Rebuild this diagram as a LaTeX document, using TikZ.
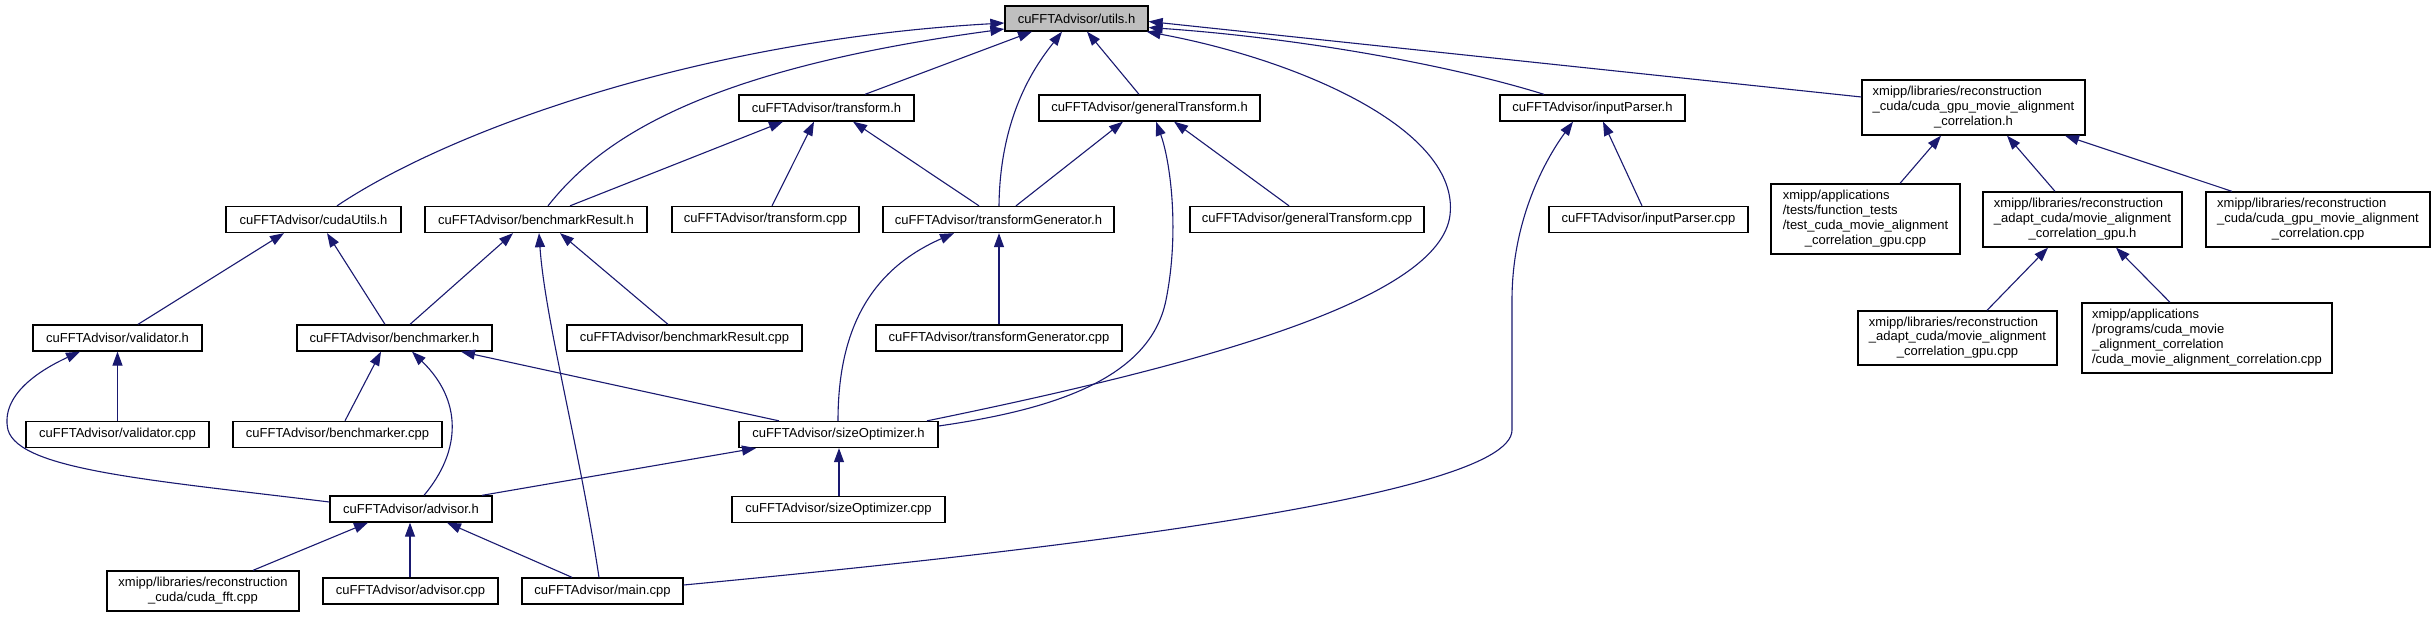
\documentclass[tikz,border=0pt]{standalone}
\usepackage{fontspec}
\setmainfont{Liberation Sans}
\usetikzlibrary{arrows.meta}
\definecolor{navyc}{RGB}{25,25,112}
\definecolor{graybox}{RGB}{191,191,191}
\newcommand{\dfont}{\fontsize{13}{14.9}\selectfont}
\newcommand{\mlab}[2]{\begin{tabular}{@{}l@{}}#1\\\multicolumn{1}{@{}c@{}}{#2}\end{tabular}}
\begin{document}
\begin{tikzpicture}[x=1pt,y=-1pt,
  box/.style={draw=black, line width=1.3pt, fill=white, rectangle, inner sep=0pt, font=\dfont, align=center, minimum height=26pt},
  edge/.style={draw=navyc, line width=1.1pt, -{Triangle[length=14pt,width=10pt]}}]
\useasboundingbox (0,0) rectangle (2434,617);
\fill[white] (0,0) rectangle (2434,617);
% row 0
\node[box, fill=graybox, minimum width=143pt, minimum height=25pt] (utils) at (1076.5,18.5) {cuFFTAdvisor/utils.h};
% row 1
\node[box, minimum width=175pt] (transformh) at (826.5,108) {cuFFTAdvisor/transform.h};
\node[box, minimum width=221pt] (genTh) at (1149.5,108) {cuFFTAdvisor/generalTransform.h};
\node[box, minimum width=185pt] (inputParserh) at (1592.5,108) {cuFFTAdvisor/inputParser.h};
\node[box, minimum width=223pt, minimum height=55pt] (cudaGpuH) at (1973.5,107.5) {\mlab{xmipp/libraries/reconstruction\\\_cuda/cuda\_gpu\_movie\_alignment}{\_correlation.h}};
% row 2
\node[box, minimum width=175pt] (cudaUtils) at (313.5,219.5) {cuFFTAdvisor/cudaUtils.h};
\node[box, minimum width=222pt] (benchResH) at (536,219.5) {cuFFTAdvisor/benchmarkResult.h};
\node[box, minimum width=187pt] (transformCpp) at (765.5,219.5) {cuFFTAdvisor/transform.cpp};
\node[box, minimum width=231pt] (transGenH) at (998.5,219.5) {cuFFTAdvisor/transformGenerator.h};
\node[box, minimum width=234pt] (genTCpp) at (1307,219.5) {cuFFTAdvisor/generalTransform.cpp};
\node[box, minimum width=199pt] (inputParserCpp) at (1648.5,219.5) {cuFFTAdvisor/inputParser.cpp};
\node[box, minimum width=189pt, minimum height=70pt] (testCuda) at (1865.5,219) {\mlab{xmipp/applications\\/tests/function\_tests\\/test\_cuda\_movie\_alignment}{\_correlation\_gpu.cpp}};
\node[box, minimum width=199pt, minimum height=55pt] (movieGpuH) at (2082.5,219.5) {\mlab{xmipp/libraries/reconstruction\\\_adapt\_cuda/movie\_alignment}{\_correlation\_gpu.h}};
\node[box, minimum width=224pt, minimum height=55pt] (cudaGpuCpp) at (2318,219.5) {\mlab{xmipp/libraries/reconstruction\\\_cuda/cuda\_gpu\_movie\_alignment}{\_correlation.cpp}};
% row 3
\node[box, minimum width=169pt] (validatorH) at (117.5,338) {cuFFTAdvisor/validator.h};
\node[box, minimum width=195pt] (benchmarkerH) at (394.5,338) {cuFFTAdvisor/benchmarker.h};
\node[box, minimum width=235pt] (benchResCpp) at (684.5,338) {cuFFTAdvisor/benchmarkResult.cpp};
\node[box, minimum width=246pt] (transGenCpp) at (999,338) {cuFFTAdvisor/transformGenerator.cpp};
\node[box, minimum width=199pt, minimum height=54pt] (movieGpuCpp) at (1957.5,338) {\mlab{xmipp/libraries/reconstruction\\\_adapt\_cuda/movie\_alignment}{\_correlation\_gpu.cpp}};
\node[box, minimum width=250pt, minimum height=70pt] (cudaMovieCpp) at (2207,338) {\mlab{xmipp/applications\\/programs/cuda\_movie\\\_alignment\_correlation}{/cuda\_movie\_alignment\_correlation.cpp}};
% row 4
\node[box, minimum width=183pt] (validatorCpp) at (117.5,434.5) {cuFFTAdvisor/validator.cpp};
\node[box, minimum width=209pt] (benchmarkerCpp) at (337.5,434.5) {cuFFTAdvisor/benchmarker.cpp};
\node[box, minimum width=199pt] (sizeOptH) at (838.5,434.5) {cuFFTAdvisor/sizeOptimizer.h};
% row 5
\node[box, minimum width=162pt] (advisorH) at (411,509) {cuFFTAdvisor/advisor.h};
\node[box, minimum width=213pt] (sizeOptCpp) at (838.5,509.5) {cuFFTAdvisor/sizeOptimizer.cpp};
% row 6
\node[box, minimum width=192pt, minimum height=40pt] (cudaFft) at (203,591) {\mlab{xmipp/libraries/reconstruction}{\_cuda/cuda\_fft.cpp}};
\node[box, minimum width=175pt] (advisorCpp) at (410.5,591) {cuFFTAdvisor/advisor.cpp};
\node[box, minimum width=161pt] (mainCpp) at (602.5,591) {cuFFTAdvisor/main.cpp};

% edges into utils.h
\draw[edge] ([xshift=23.5]cudaUtils.north) .. controls (450,130) and (700,40) .. ([yshift=-4.5]utils.west);
\draw[edge] ([xshift=12]benchResH.north) .. controls (600,140) and (700,70) .. ([yshift=-10.5]utils.west);
\draw[edge] ([xshift=38.5]transformh.north) -- ([xshift=-44.5]utils.south);
\draw[edge] ([xshift=0.5]transGenH.north) .. controls (1000,110) and (1040,60) .. ([xshift=-14.5]utils.south);
\draw[edge] ([xshift=-10.5]genTh.north) -- ([xshift=10.5]utils.south);
\draw[edge] ([xshift=88.5]sizeOptH.north) .. controls (1200,365) and (1440,300) .. (1450,215) .. controls (1460,130) and (1300,60) .. ([xshift=-2]utils.south east);
\draw[edge] ([xshift=-48.5]inputParserh.north) .. controls (1450,65) and (1300,38) .. ([yshift=-9]utils.east);
\draw[edge] ([yshift=10.5]cudaGpuH.west) -- ([yshift=-3]utils.east);
% into transform.h
\draw[edge] ([xshift=34]benchResH.north) -- ([xshift=-43.5]transformh.south);
\draw[edge] ([xshift=6.5]transformCpp.north) -- ([xshift=-12.5]transformh.south);
\draw[edge] ([xshift=-19.5]transGenH.north) -- ([xshift=26.5]transformh.south);
% into generalTransform.h
\draw[edge] ([xshift=17.5]transGenH.north) -- ([xshift=-26.5]genTh.south);
\draw[edge] ([yshift=8.5]sizeOptH.east) .. controls (1050,410) and (1150,380) .. (1166,300) .. controls (1180,230) and (1170,160) .. ([xshift=6.5]genTh.south);
\draw[edge] ([xshift=-18]genTCpp.north) -- ([xshift=24.5]genTh.south);
% into inputParser.h
\draw[edge] ([xshift=-6.5]inputParserCpp.north) -- ([xshift=10.5]inputParserh.south);
\draw[edge] ([yshift=6]mainCpp.east) .. controls (1000,555) and (1512,500) .. (1512,430) -- (1512,300) .. controls (1512,220) and (1545,160) .. ([xshift=-19.5]inputParserh.south);
% into cuda_gpu_movie_alignment_correlation.h
\draw[edge] ([xshift=34.5]testCuda.north) -- ([xshift=-32.5]cudaGpuH.south);
\draw[edge] ([xshift=-27.5]movieGpuH.north) -- ([xshift=33.5]cudaGpuH.south);
\draw[edge] ([xshift=-86]cudaGpuCpp.north) -- ([xshift=91.5]cudaGpuH.south);
% into movie_alignment_correlation_gpu.h
\draw[edge] ([xshift=29.5]movieGpuCpp.north) -- ([xshift=-34.5]movieGpuH.south);
\draw[edge] ([xshift=-37]cudaMovieCpp.north) -- ([xshift=33.5]movieGpuH.south);
% into cudaUtils.h
\draw[edge] ([xshift=20.5]validatorH.north) -- ([xshift=-29.5]cudaUtils.south);
\draw[edge] ([xshift=-9.5]benchmarkerH.north) -- ([xshift=13.5]cudaUtils.south);
% into benchmarkResult.h
\draw[edge] ([xshift=15.5]benchmarkerH.north) -- ([xshift=-23]benchResH.south);
\draw[edge] ([xshift=-3.5]mainCpp.north) .. controls (580,450) and (545,320) .. ([xshift=3]benchResH.south);
\draw[edge] ([xshift=-16.5]benchResCpp.north) -- ([xshift=24]benchResH.south);
% into transformGenerator.h
\draw[edge] ([xshift=-0.5]sizeOptH.north) .. controls (838,330) and (870,270) .. ([xshift=-44.5]transGenH.south);
\draw[edge] (transGenCpp.north) -- ([xshift=0.5]transGenH.south);
% into validator.h
\draw[edge] (validatorCpp.north) -- (validatorH.south);
\draw[edge] ([yshift=7]advisorH.west) .. controls (150,480) and (20,470) .. (8,430) .. controls (0,395) and (40,370) .. ([xshift=-37.5]validatorH.south);
% into benchmarker.h
\draw[edge] ([xshift=7.5]benchmarkerCpp.north) -- ([xshift=-13.5]benchmarkerH.south);
\draw[edge] ([xshift=13]advisorH.north) .. controls (462,450) and (462,400) .. ([xshift=17.5]benchmarkerH.south);
\draw[edge] ([xshift=-59.5]sizeOptH.north) -- ([xshift=66.5]benchmarkerH.south);
% into sizeOptimizer.h
\draw[edge] ([xshift=71]advisorH.north) -- ([xshift=-82.5]sizeOptH.south);
\draw[edge] ([xshift=0.5]sizeOptCpp.north) -- ([xshift=0.5]sizeOptH.south);
% into advisor.h
\draw[edge] ([xshift=50]cudaFft.north) -- ([xshift=-43]advisorH.south);
\draw[edge] ([xshift=-0.5]advisorCpp.north) -- ([xshift=-1]advisorH.south);
\draw[edge] ([xshift=-30.5]mainCpp.north) -- ([xshift=36]advisorH.south);
\end{tikzpicture}
\end{document}
